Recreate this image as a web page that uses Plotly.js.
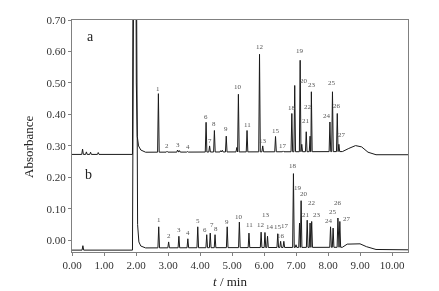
<!DOCTYPE html>
<html>
<head>
<meta charset="utf-8">
<script src="https://cdn.plot.ly/plotly-3.0.1.min.js"></script>
<style>html,body{margin:0;padding:0;background:#fff;}#chart{width:439px;height:291px;filter:grayscale(100%);}</style>
</head>
<body>
<div id="chart"></div>
<script>
// ---- Chromatogram a (upper, offset) ----
const peakTimesA   = [0.33, 0.45, 0.58, 0.82, 2.70, 2.97, 3.30, 3.36, 3.61, 4.19, 4.30, 4.45, 4.65, 4.70, 4.82, 5.15, 5.20, 5.47, 5.86, 5.96, 6.36, 6.60, 6.87, 6.96, 7.13, 7.18, 7.32, 7.44, 7.48, 8.06, 8.14, 8.29, 8.34];
const peakHeightsA = [0.290, 0.281, 0.280, 0.279, 0.466, 0.283, 0.287, 0.285, 0.282, 0.375, 0.300, 0.349, 0.285, 0.286, 0.331, 0.295, 0.464, 0.349, 0.591, 0.300, 0.330, 0.284, 0.403, 0.492, 0.572, 0.305, 0.345, 0.331, 0.472, 0.376, 0.472, 0.403, 0.305];
const peakLabelsA  = ["", "", "", "", "1", "2", "3", "", "4", "6", "7", "8", "", "", "9", "", "10", "11", "12", "13", "15", "17", "18", "", "19", "20", "21", "22", "23", "24", "25", "26", "27"];
const baseTimesA   = [0, 1.89, 1.905, 1.93, 1.99, 2.01, 2.04, 2.08, 2.15, 2.30, 8.45, 8.65, 8.86, 9.05, 9.25, 9.50, 10.5];
const baseValuesA  = [0.273, 0.273, 0.75, 1.2, 1.2, 0.5, 0.33, 0.30, 0.287, 0.280, 0.282, 0.292, 0.301, 0.297, 0.280, 0.272, 0.272];

// ---- Chromatogram b (lower) ----
const peakTimesB   = [0.34, 2.71, 3.02, 3.34, 3.62, 3.93, 4.21, 4.32, 4.47, 4.85, 5.23, 5.53, 5.91, 6.03, 6.11, 6.43, 6.52, 6.62, 6.92, 7.00, 7.11, 7.16, 7.35, 7.44, 7.49, 8.08, 8.16, 8.31, 8.37];
const peakHeightsB = [-0.017, 0.043, -0.005, 0.013, 0.005, 0.043, 0.018, 0.023, 0.018, 0.043, 0.058, 0.023, 0.026, 0.025, 0.013, 0.021, -0.003, -0.003, 0.212, -0.014, 0.055, 0.126, 0.064, 0.055, 0.060, 0.043, 0.039, 0.071, 0.060];
const peakLabelsB  = ["", "1", "2", "3", "4", "5", "6", "7", "8", "9", "10", "11", "12", "13", "14", "15", "16", "17", "18", "", "19", "20", "21", "22", "23", "24", "25", "26", "27"];
const baseTimesB   = [0, 1.89, 1.91, 1.94, 2.00, 2.03, 2.05, 2.09, 2.15, 2.30, 8.45, 8.60, 9.00, 9.20, 9.50, 10.5];
const baseValuesB  = [-0.031, -0.031, 0.75, 1.2, 1.2, 0.3, 0.05, -0.005, -0.018, -0.024, -0.022, -0.012, -0.011, -0.020, -0.029, -0.030];

// ---- Axis ticks ----
const xTickValues = [0, 1, 2, 3, 4, 5, 6, 7, 8, 9, 10];
const yTickValues = [0, 0.1, 0.2, 0.3, 0.4, 0.5, 0.6, 0.7];

// label pixel nudges [dx, dy-up]
const nudgeA = {"8":[0,1],"9":[0,2],"10":[0,2],"12":[0,2],"19":[0,4],"20":[2,58],"21":[0,6],"22":[-2,24],"23":[1,2],"24":[-3,1],"25":[0,4],"26":[0,2],"27":[3,4]};
const nudgeB = {"1":[0,2],"2":[0,1],"3":[0,1],"4":[0,1],"5":[0,1],"6":[-2,0],"7":[2,3],"8":[1,1],"11":[1,3],"12":[0,2],"13":[1,12],"14":[2,4],"15":[0,2],"17":[1,10],"18":[0,3],"19":[-2,30],"20":[3,2],"21":[-1,0],"22":[2,15],"23":[5,1],"24":[-2,1],"25":[0,11],"26":[0,10],"27":[7,-3]};

function baseAt(bt, bv, t) {
  for (let i = 0; i < bt.length - 1; i++) {
    if (t >= bt[i] && t <= bt[i + 1]) {
      const f = (t - bt[i]) / (bt[i + 1] - bt[i]);
      return bv[i] + f * (bv[i + 1] - bv[i]);
    }
  }
  return bv[bv.length - 1];
}
function buildLine(bt, bv, pt, ph) {
  const hw = 0.025;
  const pts = bt.map((t, i) => [t, bv[i]]);
  pt.forEach((t, i) => {
    pts.push([t - hw, baseAt(bt, bv, t - hw)]);
    pts.push([t, ph[i]]);
    pts.push([t + hw, baseAt(bt, bv, t + hw)]);
  });
  pts.sort((a, b) => a[0] - b[0]);
  return {x: pts.map(p => p[0]), y: pts.map(p => p[1])};
}
const lineA = buildLine(baseTimesA, baseValuesA, peakTimesA, peakHeightsA);
const lineB = buildLine(baseTimesB, baseValuesB, peakTimesB, peakHeightsB);

const serif = "Liberation Serif";
const traces = [
  {x: lineA.x, y: lineA.y, mode: "lines", line: {color: "#1a1a1a", width: 1}, hoverinfo: "skip"},
  {x: lineB.x, y: lineB.y, mode: "lines", line: {color: "#1a1a1a", width: 1}, hoverinfo: "skip"}
];

const annotations = [];
function addLabels(times, heights, labels, nudge) {
  labels.forEach((lab, i) => {
    if (!lab) return;
    const n = nudge[lab] || [0, 0];
    annotations.push({x: times[i], y: heights[i], xref: "x", yref: "y", text: lab, showarrow: false,
      xanchor: "center", yanchor: "bottom", xshift: n[0], yshift: 0 + n[1],
      font: {family: serif, size: 7, color: "#555"}, borderpad: 0});
  });
}
addLabels(peakTimesA, peakHeightsA, peakLabelsA, nudgeA);
addLabels(peakTimesB, peakHeightsB, peakLabelsB, nudgeB);
annotations.push({xref: "paper", yref: "paper", x: 0.054, y: 0.931, text: "a", showarrow: false,
  xanchor: "center", yanchor: "middle", font: {family: serif, size: 14, color: "#222"}});
annotations.push({xref: "paper", yref: "paper", x: 0.048, y: 0.332, text: "b", showarrow: false,
  xanchor: "center", yanchor: "middle", font: {family: serif, size: 14, color: "#222"}});
annotations.push({xref: "paper", yref: "paper", x: -0.128, y: 0.453, text: "Absorbance", textangle: -90, showarrow: false,
  xanchor: "center", yanchor: "middle", font: {family: serif, size: 13, color: "#222"}});
annotations.push({xref: "paper", yref: "paper", x: 0.47, y: -0.129, text: "<i>t</i> / min", showarrow: false,
  xanchor: "center", yanchor: "middle", font: {family: serif, size: 13, color: "#222"}});

const axisCommon = {showgrid: false, zeroline: false, ticks: "outside", ticklen: 3, tickwidth: 1,
  tickcolor: "#808080", showline: true, linecolor: "#808080", linewidth: 1, mirror: true,
  tickfont: {family: serif, size: 11, color: "#333"}, tickformat: ".2f", tickmode: "array"};

const layout = {
  width: 439, height: 291,
  margin: {l: 72, r: 31, t: 20, b: 39},
  paper_bgcolor: "#fff", plot_bgcolor: "#fff",
  showlegend: false,
  font: {family: serif},
  xaxis: Object.assign({}, axisCommon, {range: [0, 10.5], tickvals: xTickValues}),
  yaxis: Object.assign({}, axisCommon, {range: [-0.037, 0.70], tickvals: yTickValues}),
  annotations: annotations
};
Plotly.newPlot("chart", traces, layout, {staticPlot: true, displayModeBar: false});
</script>
</body>
</html>
